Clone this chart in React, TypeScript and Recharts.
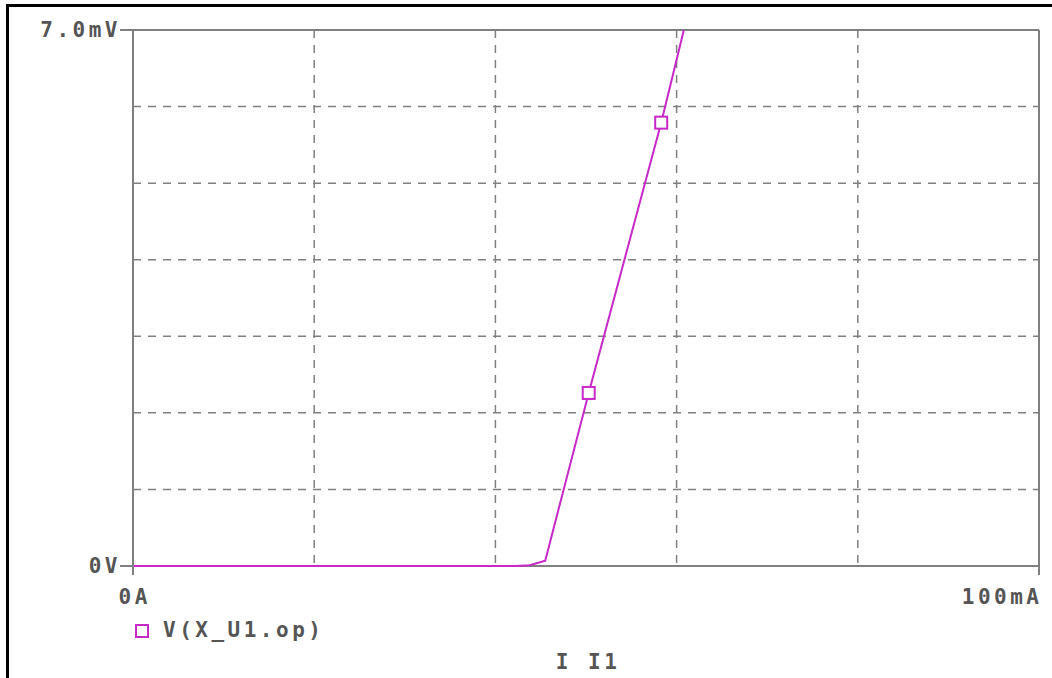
import React from "react";
import { LineChart, Line, XAxis, YAxis, CartesianGrid, ReferenceLine, Customized } from "recharts";

// current in mA
const currentMA = [0, 42.2, 43.8, 45.5, 50.3, 58.3, 60.8];
// voltage in mV
const voltageMV = [0, 0, 0.01, 0.07, 2.26, 5.79, 7.0];
// indices of points carrying a square marker
const markerIdx = [4, 5];

const xTicks = [0, 20, 40, 60, 80, 100];
const yTicks = [0, 1, 2, 3, 4, 5, 6, 7];
const xTickLabels: Record<number, string> = { 0: "0A", 100: "100mA" };
const yTickLabels: Record<number, string> = { 0: "0V", 7: "7.0mV" };
const seriesName = "V(X_U1.op)";
const xAxisTitle = "I I1";

const data = currentMA.map((x, i) => ({ x, v: voltageMV[i], mark: markerIdx.includes(i) }));

const GRAY = "#808080";
const TEXT = "#555555";
const CURVE = "#c828c8";
const FONT = "'DejaVu Sans Mono', monospace";
const FS = 21;
const LS = 3.5;

const YTick = (props: any) => {
  const { x, y, payload } = props;
  const label = yTickLabels[payload.value];
  if (label === undefined) return null;
  return (
    <g>
      <line x1={x - 13} x2={x} y1={y} y2={y} stroke={GRAY} strokeWidth={2} />
      <text x={x - 12} y={y} textAnchor="end" dominantBaseline="central" fill={TEXT}
        fontFamily={FONT} fontWeight="bold" fontSize={FS} letterSpacing={LS}>{label}</text>
    </g>
  );
};

const XTick = (props: any) => {
  const { x, y, payload } = props;
  const label = xTickLabels[payload.value];
  if (label === undefined) return null;
  const isEnd = payload.value === 100;
  return (
    <g>
      <line x1={x} x2={x} y1={y} y2={y + 9} stroke={GRAY} strokeWidth={2} />
      <text x={isEnd ? x + LS : x + LS / 2} y={y + 31} textAnchor={isEnd ? "end" : "middle"} dominantBaseline="central" fill={TEXT}
        fontFamily={FONT} fontWeight="bold" fontSize={FS} letterSpacing={LS}>{label}</text>
    </g>
  );
};

const Dot = (props: any) => {
  const { cx, cy, payload, index } = props;
  if (!payload || !payload.mark) return <g key={index} />;
  return <rect key={index} x={cx - 6} y={cy - 6} width={12} height={12} fill="#ffffff" stroke={CURVE} strokeWidth={2} />;
};

const Extras = () => (
  <g>
    <rect x={136} y={625} width={12} height={12} fill="#ffffff" stroke={CURVE} strokeWidth={2} />
    <text x={163} y={630} dominantBaseline="central" fill={TEXT} fontFamily={FONT} fontWeight="bold" fontSize={FS} letterSpacing={LS}>{seriesName}</text>
    <text x={588} y={662} textAnchor="middle" dominantBaseline="central" fill={TEXT} fontFamily={FONT} fontWeight="bold" fontSize={FS} letterSpacing={LS}>{xAxisTitle}</text>
  </g>
);

export default function App() {
  return (
    <div style={{ position: "absolute", left: 0, top: 0, width: 1052, height: 678, background: "#ffffff" }}>
      <div style={{ position: "absolute", left: 6, top: 4, width: 1046, height: 674, borderLeft: "3px solid #000", borderTop: "3px solid #000", boxSizing: "border-box" }} />
      <LineChart width={1052} height={678} data={data} margin={{ top: 30, right: 13, bottom: 0, left: 8 }}>
        <CartesianGrid stroke={GRAY} strokeDasharray="8 7" strokeWidth={1.5} />
        <XAxis dataKey="x" type="number" domain={[0, 100]} ticks={xTicks} tick={<XTick />} tickLine={false}
          tickSize={0} tickMargin={0} height={112} axisLine={false} interval={0} />
        <YAxis type="number" domain={[0, 7]} ticks={yTicks} tick={<YTick />} tickLine={false}
          tickSize={0} tickMargin={0} width={125} axisLine={{ stroke: GRAY, strokeWidth: 2 }} interval={0} />
        <ReferenceLine y={0} stroke={GRAY} strokeWidth={2} />
        <ReferenceLine y={7} stroke={GRAY} strokeWidth={2} />
        <ReferenceLine x={100} stroke={GRAY} strokeWidth={2} />
        <Customized component={Extras} />
        <Line dataKey="v" stroke={CURVE} strokeWidth={2} isAnimationActive={false} dot={<Dot />} activeDot={false} type="linear" />
      </LineChart>
    </div>
  );
}
